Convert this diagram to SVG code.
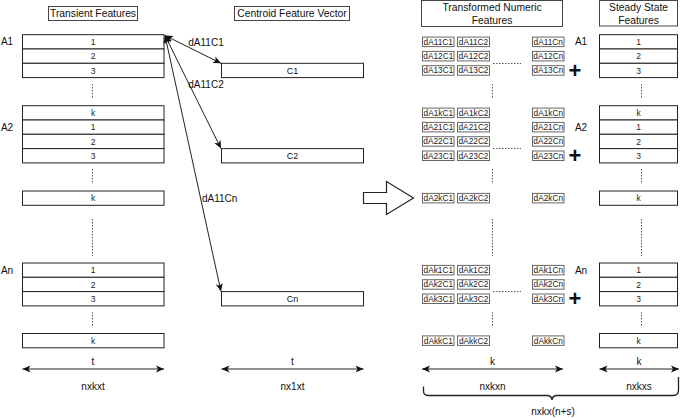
<svg xmlns="http://www.w3.org/2000/svg" width="685" height="418" viewBox="0 0 685 418">
<defs>
<style>
text{font-family:"Liberation Sans",Arial,sans-serif;fill:#111}
.hd{font-size:10.3px;text-anchor:middle}
.lb{font-size:10px;text-anchor:middle}
.rn{font-size:8.5px;text-anchor:middle;fill:#222}
.row{fill:#fff;stroke:#222;stroke-width:1}
.hbox{fill:#fff;stroke:#444;stroke-width:1}
.sb{fill:#fff;stroke:#666;stroke-width:1}
.st{font-size:8.3px;text-anchor:middle;fill:#222}
.dot{stroke:#555;stroke-width:1;stroke-dasharray:1.5 1.5;fill:none}
.ln{stroke:#222;stroke-width:1;fill:none}
.pl{font-size:22px;text-anchor:middle;font-weight:bold}
</style>
<marker id="ah" viewBox="0 0 10 8" refX="8" refY="4" markerWidth="10" markerHeight="8" markerUnits="userSpaceOnUse" orient="auto-start-reverse">
<path d="M0,0.5 L8,4 L0,7.5 L2,4 z" fill="#111"/>
</marker>
</defs>

<!-- headings -->
<g id="h-transient"><rect class="hbox" x="48.5" y="6.5" width="89" height="14"/><text class="hd" x="93" y="17.3">Transient Features</text></g>
<g id="h-centroid"><rect class="hbox" x="234.5" y="6.5" width="115" height="14"/><text class="hd" x="292" y="17.3">Centroid Feature Vector</text></g>
<g id="h-transformed"><rect class="hbox" x="421.5" y="0.5" width="141" height="26"/><text class="hd" x="492" y="11">Transformed Numeric</text><text class="hd" x="492" y="23.5">Features</text></g>
<g id="h-steady"><rect class="hbox" x="599.5" y="0.5" width="78" height="25.5"/><text class="hd" x="638.5" y="11">Steady State</text><text class="hd" x="638.5" y="23.5">Features</text></g>

<!-- transient feature rows -->
<g id="transient">
<rect class="row" x="22.5" y="34.7" width="141.5" height="14.3"/><text class="rn" x="93" y="44.9">1</text>
<rect class="row" x="22.5" y="49" width="141.5" height="14.3"/><text class="rn" x="93" y="59.2">2</text>
<rect class="row" x="22.5" y="63.3" width="141.5" height="14.3"/><text class="rn" x="93" y="73.5">3</text>
<rect class="row" x="22.5" y="105.7" width="141.5" height="14.3"/><text class="rn" x="93" y="115.9">k</text>
<rect class="row" x="22.5" y="120" width="141.5" height="14.3"/><text class="rn" x="93" y="130.2">1</text>
<rect class="row" x="22.5" y="134.3" width="141.5" height="14.3"/><text class="rn" x="93" y="144.5">2</text>
<rect class="row" x="22.5" y="148.6" width="141.5" height="14.3"/><text class="rn" x="93" y="158.8">3</text>
<rect class="row" x="22.5" y="191" width="141.5" height="14.3"/><text class="rn" x="93" y="201.2">k</text>
<rect class="row" x="22.5" y="263" width="141.5" height="14.3"/><text class="rn" x="93" y="273.2">1</text>
<rect class="row" x="22.5" y="277.3" width="141.5" height="14.3"/><text class="rn" x="93" y="287.5">2</text>
<rect class="row" x="22.5" y="291.6" width="141.5" height="14.3"/><text class="rn" x="93" y="301.8">3</text>
<rect class="row" x="22.5" y="333.5" width="141.5" height="14.3"/><text class="rn" x="93" y="343.7">k</text>
<path class="dot" d="M92.5,84V99M92.5,169V183M92.5,219V256M92.5,312V327"/>
<text class="lb" x="7" y="45.3">A1</text>
<text class="lb" x="7" y="130.6">A2</text>
<text class="lb" x="7" y="273.6">An</text>
</g>

<!-- centroid vectors -->
<g id="centroid">
<rect class="row" x="221.5" y="63.3" width="142" height="14.3"/><text class="lb" x="292.5" y="73.9" style="font-size:9px">C1</text>
<rect class="row" x="221.5" y="148.6" width="142" height="14.3"/><text class="lb" x="292.5" y="159.2" style="font-size:9px">C2</text>
<rect class="row" x="221.5" y="291.6" width="142" height="14.3"/><text class="lb" x="292.5" y="302.2" style="font-size:9px">Cn</text>
</g>

<!-- transformed numeric features -->
<g id="transformed">
<g>
<rect class="sb" x="422.5" y="37.1" width="31.5" height="9.5"/><text class="st" x="438.3" y="44.8">dA11C1</text>
<rect class="sb" x="457.5" y="37.1" width="32" height="9.5"/><text class="st" x="473.5" y="44.8">dA11C2</text>
<rect class="sb" x="532.5" y="37.1" width="31.5" height="9.5"/><text class="st" x="548.3" y="44.8">dA11Cn</text>
<rect class="sb" x="422.5" y="51.4" width="31.5" height="9.5"/><text class="st" x="438.3" y="59.1">dA12C1</text>
<rect class="sb" x="457.5" y="51.4" width="32" height="9.5"/><text class="st" x="473.5" y="59.1">dA12C2</text>
<rect class="sb" x="532.5" y="51.4" width="31.5" height="9.5"/><text class="st" x="548.3" y="59.1">dA12Cn</text>
<rect class="sb" x="422.5" y="65.7" width="31.5" height="9.5"/><text class="st" x="438.3" y="73.4">dA13C1</text>
<rect class="sb" x="457.5" y="65.7" width="32" height="9.5"/><text class="st" x="473.5" y="73.4">dA13C2</text>
<rect class="sb" x="532.5" y="65.7" width="31.5" height="9.5"/><text class="st" x="548.3" y="73.4">dA13Cn</text>
</g>
<g>
<rect class="sb" x="422.5" y="108.1" width="31.5" height="9.5"/><text class="st" x="438.3" y="115.8">dA1kC1</text>
<rect class="sb" x="457.5" y="108.1" width="32" height="9.5"/><text class="st" x="473.5" y="115.8">dA1kC2</text>
<rect class="sb" x="532.5" y="108.1" width="31.5" height="9.5"/><text class="st" x="548.3" y="115.8">dA1kCn</text>
<rect class="sb" x="422.5" y="122.4" width="31.5" height="9.5"/><text class="st" x="438.3" y="130.1">dA21C1</text>
<rect class="sb" x="457.5" y="122.4" width="32" height="9.5"/><text class="st" x="473.5" y="130.1">dA21C2</text>
<rect class="sb" x="532.5" y="122.4" width="31.5" height="9.5"/><text class="st" x="548.3" y="130.1">dA21Cn</text>
<rect class="sb" x="422.5" y="136.7" width="31.5" height="9.5"/><text class="st" x="438.3" y="144.4">dA22C1</text>
<rect class="sb" x="457.5" y="136.7" width="32" height="9.5"/><text class="st" x="473.5" y="144.4">dA22C2</text>
<rect class="sb" x="532.5" y="136.7" width="31.5" height="9.5"/><text class="st" x="548.3" y="144.4">dA22Cn</text>
<rect class="sb" x="422.5" y="151" width="31.5" height="9.5"/><text class="st" x="438.3" y="158.7">dA23C1</text>
<rect class="sb" x="457.5" y="151" width="32" height="9.5"/><text class="st" x="473.5" y="158.7">dA23C2</text>
<rect class="sb" x="532.5" y="151" width="31.5" height="9.5"/><text class="st" x="548.3" y="158.7">dA23Cn</text>
<rect class="sb" x="422.5" y="193.4" width="31.5" height="9.5"/><text class="st" x="438.3" y="201.1">dA2kC1</text>
<rect class="sb" x="457.5" y="193.4" width="32" height="9.5"/><text class="st" x="473.5" y="201.1">dA2kC2</text>
<rect class="sb" x="532.5" y="193.4" width="31.5" height="9.5"/><text class="st" x="548.3" y="201.1">dA2kCn</text>
</g>
<g>
<rect class="sb" x="422.5" y="265.4" width="31.5" height="9.5"/><text class="st" x="438.3" y="273.1">dAk1C1</text>
<rect class="sb" x="457.5" y="265.4" width="32" height="9.5"/><text class="st" x="473.5" y="273.1">dAk1C2</text>
<rect class="sb" x="532.5" y="265.4" width="31.5" height="9.5"/><text class="st" x="548.3" y="273.1">dAk1Cn</text>
<rect class="sb" x="422.5" y="279.7" width="31.5" height="9.5"/><text class="st" x="438.3" y="287.4">dAk2C1</text>
<rect class="sb" x="457.5" y="279.7" width="32" height="9.5"/><text class="st" x="473.5" y="287.4">dAk2C2</text>
<rect class="sb" x="532.5" y="279.7" width="31.5" height="9.5"/><text class="st" x="548.3" y="287.4">dAk2Cn</text>
<rect class="sb" x="422.5" y="294" width="31.5" height="9.5"/><text class="st" x="438.3" y="301.7">dAk3C1</text>
<rect class="sb" x="457.5" y="294" width="32" height="9.5"/><text class="st" x="473.5" y="301.7">dAk3C2</text>
<rect class="sb" x="532.5" y="294" width="31.5" height="9.5"/><text class="st" x="548.3" y="301.7">dAk3Cn</text>
<rect class="sb" x="422.5" y="335.9" width="31.5" height="9.5"/><text class="st" x="438.3" y="343.6">dAkkC1</text>
<rect class="sb" x="457.5" y="335.9" width="32" height="9.5"/><text class="st" x="473.5" y="343.6">dAkkC2</text>
<rect class="sb" x="532.5" y="335.9" width="31.5" height="9.5"/><text class="st" x="548.3" y="343.6">dAkkCn</text>
</g>
<path class="dot" d="M492.5,84V99M492.5,169V183M492.5,219V256M492.5,312V327"/>
<path class="dot" d="M493,63.5H521M493,148.5H521M493,291.5H521"/>
<text class="pl" x="575" y="78">+</text>
<text class="pl" x="575" y="163.3">+</text>
<text class="pl" x="575" y="306.3">+</text>
</g>

<!-- steady state rows -->
<g id="steady">
<rect class="row" x="599.5" y="34.7" width="78" height="14.3"/><text class="rn" x="638.5" y="44.9">1</text>
<rect class="row" x="599.5" y="49" width="78" height="14.3"/><text class="rn" x="638.5" y="59.2">2</text>
<rect class="row" x="599.5" y="63.3" width="78" height="14.3"/><text class="rn" x="638.5" y="73.5">3</text>
<rect class="row" x="599.5" y="105.7" width="78" height="14.3"/><text class="rn" x="638.5" y="115.9">k</text>
<rect class="row" x="599.5" y="120" width="78" height="14.3"/><text class="rn" x="638.5" y="130.2">1</text>
<rect class="row" x="599.5" y="134.3" width="78" height="14.3"/><text class="rn" x="638.5" y="144.5">2</text>
<rect class="row" x="599.5" y="148.6" width="78" height="14.3"/><text class="rn" x="638.5" y="158.8">3</text>
<rect class="row" x="599.5" y="191" width="78" height="14.3"/><text class="rn" x="638.5" y="201.2">k</text>
<rect class="row" x="599.5" y="263" width="78" height="14.3"/><text class="rn" x="638.5" y="273.2">1</text>
<rect class="row" x="599.5" y="277.3" width="78" height="14.3"/><text class="rn" x="638.5" y="287.5">2</text>
<rect class="row" x="599.5" y="291.6" width="78" height="14.3"/><text class="rn" x="638.5" y="301.8">3</text>
<rect class="row" x="599.5" y="333.5" width="78" height="14.3"/><text class="rn" x="638.5" y="343.7">k</text>
<path class="dot" d="M641.5,84V99M641.5,169V183M641.5,219V256M641.5,312V327"/>
<text class="lb" x="581" y="45.3">A1</text>
<text class="lb" x="581" y="130.6">A2</text>
<text class="lb" x="581" y="273.6">An</text>
</g>

<!-- big hollow arrow -->
<g id="transform-arrow">
<path d="M363.5,192.5H386.5V181.5L413.5,198L386.5,214.5V203.5H363.5Z" fill="#fff" stroke="#222" stroke-width="1.2"/>
</g>

<!-- connectors -->
<g id="connectors">
<path class="ln" d="M165,35.5L221,63.3" marker-start="url(#ah)" marker-end="url(#ah)"/>
<path class="ln" d="M165,35.5L221,148.6" marker-start="url(#ah)" marker-end="url(#ah)"/>
<path class="ln" d="M165,35.5L221,291.6" marker-start="url(#ah)" marker-end="url(#ah)"/>
<text class="lb" x="206" y="45.5">dA11C1</text>
<text class="lb" x="206" y="87.5">dA11C2</text>
<text class="lb" x="202" y="201.5" style="text-anchor:start">dA11Cn</text>
</g>

<!-- dimension arrows -->
<g id="dimensions">
<path class="ln" d="M22.5,369H164" marker-start="url(#ah)" marker-end="url(#ah)"/>
<text class="lb" x="93" y="365">t</text>
<text class="lb" x="93" y="389.5">nxkxt</text>
<path class="ln" d="M221.5,369H363.5" marker-start="url(#ah)" marker-end="url(#ah)"/>
<text class="lb" x="292.5" y="365">t</text>
<text class="lb" x="292.5" y="389.5">nx1xt</text>
<path class="ln" d="M422,369H563" marker-start="url(#ah)" marker-end="url(#ah)"/>
<text class="lb" x="492.5" y="365">k</text>
<text class="lb" x="492.5" y="389.5">nxkxn</text>
<path class="ln" d="M599.5,369H679" marker-start="url(#ah)" marker-end="url(#ah)"/>
<text class="lb" x="639" y="365">k</text>
<text class="lb" x="639" y="389.5">nxkxs</text>
<path class="ln" style="stroke-width:1.3" d="M423.5,386.5V391Q423.5,395.5 428,395.5H547Q551.5,395.5 552,400Q552.5,395.5 557,395.5H673Q678.5,395.5 678.5,390V377"/>
<text class="lb" x="553" y="414.5">nxkx(n+s)</text>
</g>
</svg>
